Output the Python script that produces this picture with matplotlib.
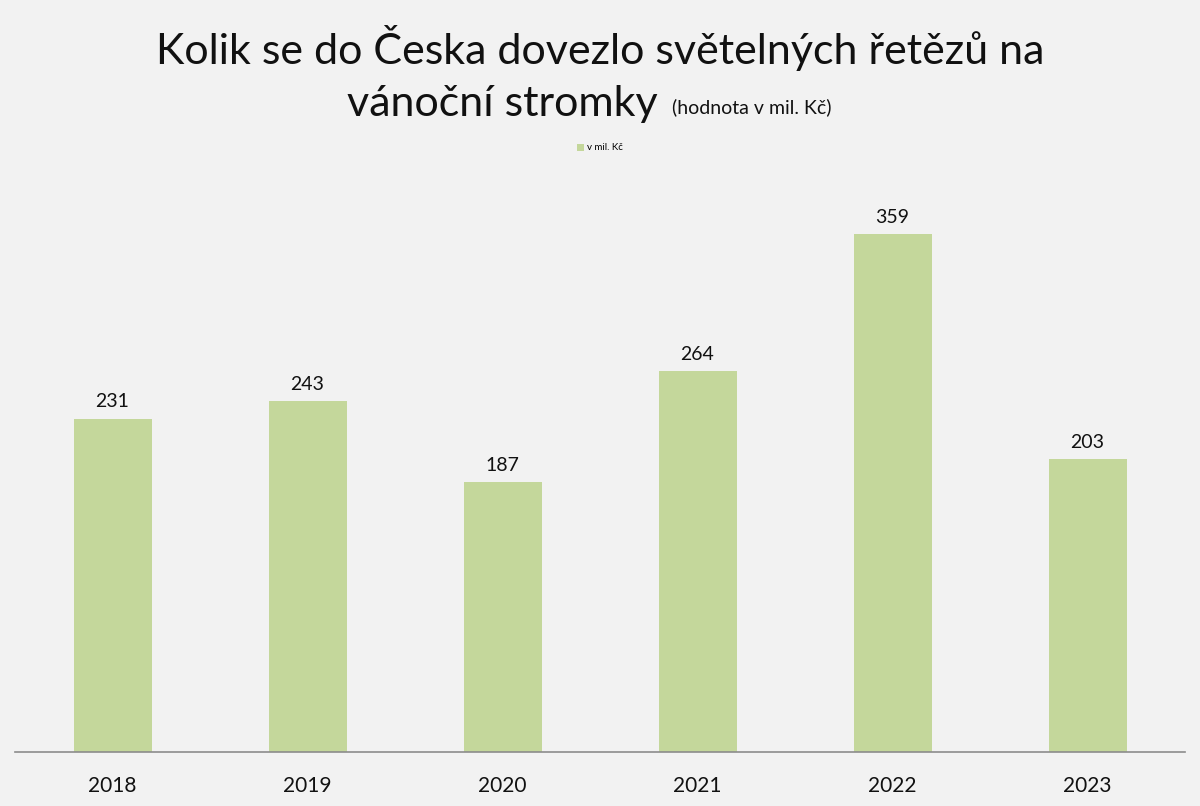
"""Import of Christmas tree light chains into Czechia, bar chart."""
import matplotlib.pyplot as plt

years = ['2018', '2019', '2020', '2021', '2022', '2023']
values = [231, 243, 187, 264, 359, 203]
series_label = 'v mil. Kč'

bg = '#f2f2f2'
bar_color = '#c4d79b'
plt.rcParams['font.family'] = ['Lato', 'DejaVu Sans']

fig = plt.figure(figsize=(12, 8.06), dpi=100, facecolor=bg)
ax = fig.add_axes([15 / 1200, 1 - 752 / 806, 1170 / 1200, 577 / 806], facecolor=bg)

x = range(len(years))
bars = ax.bar(x, values, width=0.4, color=bar_color, label=series_label)
for b, v in zip(bars, values):
    ax.annotate(str(v), (b.get_x() + b.get_width() / 2, v), textcoords='offset points',
                xytext=(0, 6), ha='center', va='bottom', fontsize=14, color='#111111')

ax.set_xlim(-0.5, len(years) - 0.5)
ax.set_ylim(0, 400)
ax.set_xticks(list(x))
ax.set_xticklabels(years, fontsize=15, color='#111111')
ax.tick_params(axis='x', length=0, pad=17)
ax.set_yticks([])
for side in ['top', 'right', 'left']:
    ax.spines[side].set_visible(False)
ax.spines['bottom'].set_color('#8c8c8c')
ax.spines['bottom'].set_linewidth(1.2)

# Title, two lines, the second with a smaller note
fig.text(0.5, 1 - 48 / 806, 'Kolik se do Česka dovezlo světelných řetězů na',
         ha='center', va='center', fontsize=31, color='#111111')
fig.text(347 / 1200, 1 - 104 / 806, 'vánoční stromky', ha='left', va='center',
         fontsize=31, color='#111111')
fig.text(672 / 1200, 1 - 107 / 806, '(hodnota v mil. Kč)', ha='left', va='center',
         fontsize=14, color='#111111')

ax.legend(loc='center', bbox_to_anchor=(0.5, 1 - 148 / 806), bbox_transform=fig.transFigure,
          frameon=False, fontsize=7, handlelength=0.7, handleheight=0.7, handletextpad=0.3)

fig.savefig('out.png', dpi=100, facecolor=bg)
